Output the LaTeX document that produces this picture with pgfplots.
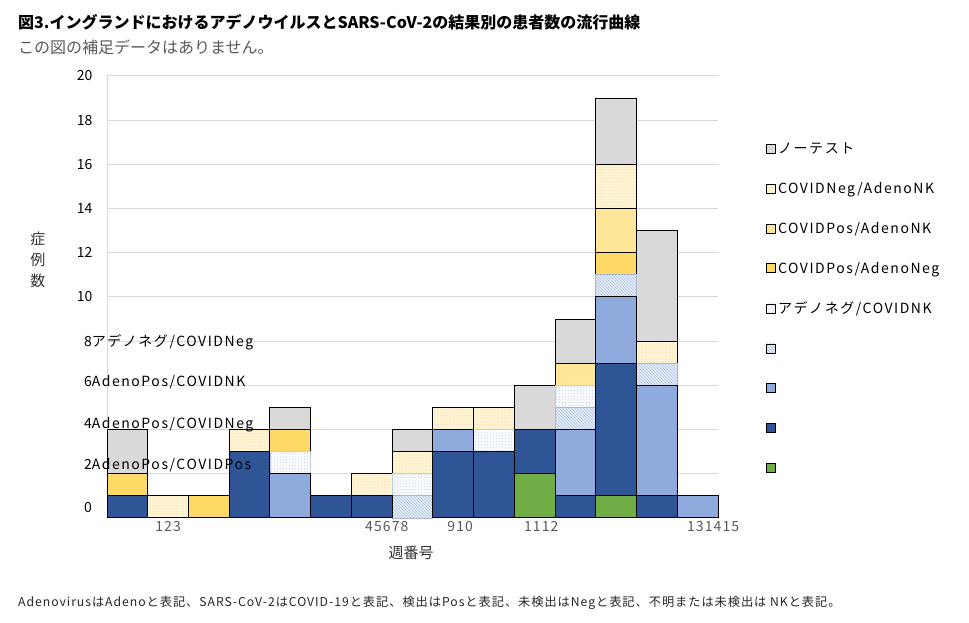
\documentclass[border=0pt]{standalone}
\usepackage{fontspec}
\setmainfont{Noto Sans CJK JP}
\newfontfamily\lsfont{Noto Sans CJK JP}[LetterSpace=8]
\newfontfamily\lsfontb{Noto Sans CJK JP}[LetterSpace=11]
\usepackage{pgfplots}
\usepackage{pgfplotstable}
\pgfplotsset{compat=1.18}
\usetikzlibrary{patterns}

\definecolor{gridgray}{HTML}{D9D9D9}
\definecolor{cgy}{HTML}{D9D9D9}
\definecolor{cydbg}{HTML}{FFF5D9}
\definecolor{cyddot}{HTML}{F2BF4A}
\definecolor{cly}{HTML}{FFE699}
\definecolor{cgo}{HTML}{FFD966}
\definecolor{cwddot}{HTML}{BCCDEA}
\definecolor{cwddraw}{HTML}{C3CBDA}
\definecolor{chabg}{HTML}{E6EDF7}
\definecolor{chaline}{HTML}{AFC3E6}
\definecolor{chadraw}{HTML}{A9B5CB}
\definecolor{clb}{HTML}{8FAADC}
\definecolor{cdb}{HTML}{2F5597}
\definecolor{cgr}{HTML}{70AD47}
\definecolor{txtgray}{HTML}{595959}

\pgfplotstableread{
x  gr db lb ha wd go ly yd gy
1  0  1  0  0  0  1  0  0  2
2  0  0  0  0  0  0  0  1  0
3  0  0  0  0  0  1  0  0  0
4  0  3  0  0  0  0  0  1  0
5  0  0  2  0  1  1  0  0  1
6  0  1  0  0  0  0  0  0  0
7  0  1  0  0  0  0  0  1  0
8  0  0  0  1  1  0  0  1  1
9  0  3  1  0  0  0  0  1  0
10 0  3  0  0  1  0  0  1  0
11 2  2  0  0  0  0  0  0  2
12 0  1  3  1  1  0  1  0  2
13 1  6  3  1  0  1  2  2  3
14 0  1  5  1  0  0  0  1  5
15 0  0  1  0  0  0  0  0  0
}\data

\begin{document}
\begin{tikzpicture}
\path[use as bounding box] (0pt,0pt) rectangle (969pt,623pt);
\begin{axis}[
  at={(107pt,105pt)}, anchor=south west,
  scale only axis, width=611pt, height=442pt,
  xmin=0.5, xmax=15.5, ymin=0, ymax=20,
  ybar stacked, bar width=1,
  ytick={0,2,...,20},
  yticklabels={,,,,,10,12,14,16,18,20},
  xtick={2,7.37,9.17,11.16,15.38},
  xticklabels={123,45678,910,1112,131415},
  ymajorgrids,
  grid style={draw=gridgray, line width=1pt},
  axis x line*=bottom, axis y line*=left,
  axis line style={draw=gridgray, line width=1pt},
  major tick length=0pt,
  tick style={draw=none},
  clip=false,
  yticklabel style={font=\fontsize{14}{16}\selectfont, text=black, xshift=-11pt},
  xticklabel style={font=\lsfont\fontsize{14}{16}\selectfont, text=txtgray},
  legend cell align=left,
  legend image code/.code={\draw[#1] (0pt,-4.5pt) rectangle (9pt,4.5pt);},
  legend style={at={(rel axis cs:1.0736,0.860)}, anchor=north west, draw=none, fill=none,
    font=\lsfontb\fontsize{14}{17}\selectfont, row sep=22.5pt},
]
\addplot[forget plot, fill=cgr, draw=black, line width=1pt] table[x=x,y=gr]{\data};
\addplot[forget plot, fill=cdb, draw=black, line width=1pt] table[x=x,y=db]{\data};
\addplot[forget plot, fill=clb, draw=black, line width=1pt] table[x=x,y=lb]{\data};
\addplot[forget plot, preaction={fill=chabg}, pattern=north west lines, pattern color=chaline, draw=chadraw, line width=0.8pt] table[x=x,y=ha]{\data};
\addplot[forget plot, preaction={fill=white}, pattern=crosshatch dots, pattern color=cwddot, draw=cwddraw, line width=0.8pt] table[x=x,y=wd]{\data};
\addplot[forget plot, fill=cgo, draw=black, line width=1pt] table[x=x,y=go]{\data};
\addplot[forget plot, fill=cly, draw=black, line width=1pt] table[x=x,y=ly]{\data};
\addplot[forget plot, preaction={fill=cydbg}, pattern=dots, pattern color=cyddot, draw=black, line width=1pt] table[x=x,y=yd]{\data};
\addplot[forget plot, fill=cgy, draw=black, line width=1pt] table[x=x,y=gy]{\data};

\addlegendimage{fill=cgy, draw=black, line width=1pt}
\addlegendentry{\strut ノーテスト}
\addlegendimage{preaction={fill=cydbg}, pattern=dots, pattern color=cyddot, draw=none}
\addlegendentry{\strut COVIDNeg/AdenoNK}
\addlegendimage{fill=cly, draw=black, line width=1pt}
\addlegendentry{\strut COVIDPos/AdenoNK}
\addlegendimage{fill=cgo, draw=black, line width=1pt}
\addlegendentry{\strut COVIDPos/AdenoNeg}
\addlegendimage{preaction={fill=white}, pattern=crosshatch dots, pattern color=cwddot, draw=none}
\addlegendentry{\strut アデノネグ/COVIDNK}
\addlegendimage{preaction={fill=chabg}, pattern=north west lines, pattern color=chaline, draw=none}
\addlegendentry{\strut}
\addlegendimage{fill=clb, draw=black, line width=1pt}
\addlegendentry{\strut}
\addlegendimage{fill=cdb, draw=black, line width=1pt}
\addlegendentry{\strut}
\addlegendimage{fill=cgr, draw=black, line width=1pt}
\addlegendentry{\strut}
\end{axis}

\begin{scope}[every node/.style={anchor=base east, inner sep=0pt, font=\lsfontb\fontsize{14}{16}\selectfont, text=black}]
\node at (92pt,110pt) {0};
\node at (92pt,153pt) {2\rlap{AdenoPos/COVIDPos}};
\node at (92pt,194pt) {4\rlap{AdenoPos/COVIDNeg}};
\node at (92pt,236pt) {6\rlap{AdenoPos/COVIDNK}};
\node at (92pt,276pt) {8\rlap{アデノネグ/COVIDNeg}};
\end{scope}

\node[anchor=west, inner sep=0pt, font=\fontsize{16}{19}\selectfont\bfseries] at (18pt,601pt) {図3.イングランドにおけるアデノウイルスとSARS-CoV-2の結果別の患者数の流行曲線};
\node[anchor=west, inner sep=0pt, font=\fontsize{16}{19}\selectfont, text=txtgray] at (18pt,576pt) {この図の補足データはありません。};
\node[inner sep=0pt, font=\fontsize{15}{21}\selectfont, text=black!80, align=center] at (38pt,363pt) {症\\例\\数};
\node[inner sep=0pt, font=\fontsize{15}{18}\selectfont, text=black!80] at (411pt,70pt) {週番号};
\node[anchor=west, inner sep=0pt, font=\lsfont\fontsize{12.2}{14}\selectfont, text=black!85] at (18pt,20pt) {AdenovirusはAdenoと表記、SARS-CoV-2はCOVID-19と表記、検出はPosと表記、未検出はNegと表記、不明または未検出は NKと表記。};
\end{tikzpicture}
\end{document}
